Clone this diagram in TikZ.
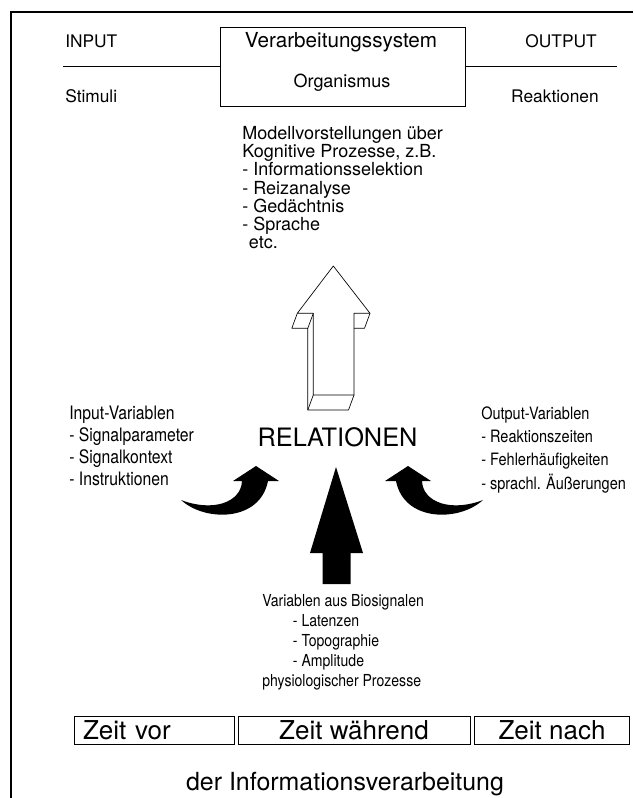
\documentclass[tikz,border=0pt]{standalone}
\usepackage{fontspec}
\setmainfont{TeX Gyre Heros}
\newfontfamily\narrowfont[FakeStretch=0.85]{TeX Gyre Heros}
\usetikzlibrary{positioning,calc}
\tikzset{
  lbl/.style={inner sep=0pt,font=\fontsize{13}{15}\selectfont},
  txt/.style={inner sep=0pt,align=left,font=\fontsize{13.5}{13.7}\selectfont},
  lst/.style={inner sep=0pt,align=left,font=\narrowfont\fontsize{13.9}{16.5}\selectfont},
  edge/.style={line width=0.5pt,line join=round},
  blk/.style={fill=black,draw=none},
  zeit/.style={draw,line width=0.6pt,minimum height=21pt,inner ysep=0pt,font=\fontsize{19.5}{22}\selectfont}
}

\begin{document}
\begin{tikzpicture}[x=0.75pt,y=-0.75pt]
\useasboundingbox (0,0) rectangle (633,798);
% frame
\draw[line width=1pt] (633,12) -- (11,12) -- (11,798);
% system box
\node[draw,line width=0.6pt,minimum width=183.75pt,minimum height=59.25pt] (sys) at (342.5,66.5) {};
\node[inner sep=0pt,font=\fontsize{15.5}{17}\selectfont,anchor=base] (vs) at (341,48) {Verarbeitungssystem};
\node[inner sep=0pt,font=\fontsize{13.5}{15}\selectfont,anchor=base] (org) at (342,88) {Organismus};
\coordinate (lend) at (63,66);
\coordinate (rend) at (617,66);
\draw[line width=0.5pt] (lend) -- (sys.west |- lend);
\draw[line width=0.5pt] (sys.east |- rend) -- (rend);
\node[lbl,anchor=base west] (inp) at (65,48) {INPUT};
\node[lbl,anchor=base east] (outp) at (597,48) {OUTPUT};
\node[lbl,anchor=base west] (stim) at (65,103) {Stimuli};
\node[lbl,anchor=base east] (reak) at (599,103) {Reaktionen};
% models
\node[txt,anchor=north west] (modell) at (242,126) {Modellvorstellungen über\\
Kognitive Prozesse, z.B.\\
- Informationsselektion\\
- Reizanalyse\\
- Gedächtnis\\
- Sprache\\
\hspace*{5pt}etc.};
% 3d outline arrow
\coordinate (A) at (333.3,266);
\coordinate (HL) at (297.3,313.3);
\coordinate (HR) at (370,313.3);
\coordinate (SL) at (313.3,313.3);
\coordinate (SR) at (354,313.3);
\coordinate (FBL) at (313.3,395);
\coordinate (FBR) at (354,395);
\draw[edge,fill=white] (A) -- (HR) -- (SR) -- (FBR) -- (FBL) -- (SL) -- (HL) -- cycle;
\draw[edge] (HL) -- ++(-5.5,15) -- ($(SL)+(-5.5,15)$) -- ($(FBL)+(-5.5,15)$) -- ($(FBR)+(-5.5,15)$) -- (FBR);
\draw[edge] (SL) -- ++(-5.5,15);
\draw[edge] (FBL) -- ++(-5.5,15);
\draw[edge] (HR) -- ++(-5.5,15) -- (SR |- 0,328.3);
\node[inner sep=0pt,font=\fontsize{19}{21}\selectfont] (rel) at (337.5,437) {RELATIONEN};
% variables
\node[lst,anchor=north west] (invar) at (69,406) {Input-Variablen\\
- Signalparameter\\
- Signalkontext\\
- Instruktionen};
\node[lst,anchor=north west,font=\narrowfont\fontsize{12.8}{17.5}\selectfont] (outvar) at (481,406) {Output-Variablen\\
- Reaktionszeiten\\
- Fehlerhäufigkeiten\\
- sprachl. Äußerungen};
% black arrows
\fill[blk] (181,500) .. controls (205,522) and (260,522) .. (268,481) -- (279,481) -- (256,466)
  -- (233,481) -- (242,481) .. controls (241,503) and (212,512) .. (181,500) -- cycle;
\fill[blk] (483,500) .. controls (459,522) and (404,522) .. (396,481) -- (385,481) -- (408,466)
  -- (431,481) -- (422,481) .. controls (423,503) and (452,512) .. (483,500) -- cycle;
\fill[blk] (336,467) -- (363,553) -- (350.7,553) -- (350.7,584) -- (322.7,584) -- (322.7,553) -- (310,553) -- cycle;
\node[lst,anchor=north west,font=\narrowfont\fontsize{12.4}{15}\selectfont] (bio) at (262,594) {Variablen aus Biosignalen\\
\hspace*{23pt}- Latenzen\\
\hspace*{23pt}- Topographie\\
\hspace*{23pt}- Amplitude\\
physiologischer Prozesse};
% time boxes
\node[zeit,minimum width=120pt,text width=106.5pt,inner xsep=6.75pt,align=left] (zv) at (154,730) {Zeit vor};
\node[zeit,minimum width=174pt,align=center] (zw) at (354,730) {Zeit während};
\node[zeit,minimum width=116.25pt,align=center] (zn) at (552,730) {Zeit nach};
\node[inner sep=0pt,font=\fontsize{18.7}{21}\selectfont,anchor=base] (inf) at (345,790) {der Informationsverarbeitung};
\end{tikzpicture}
\end{document}
